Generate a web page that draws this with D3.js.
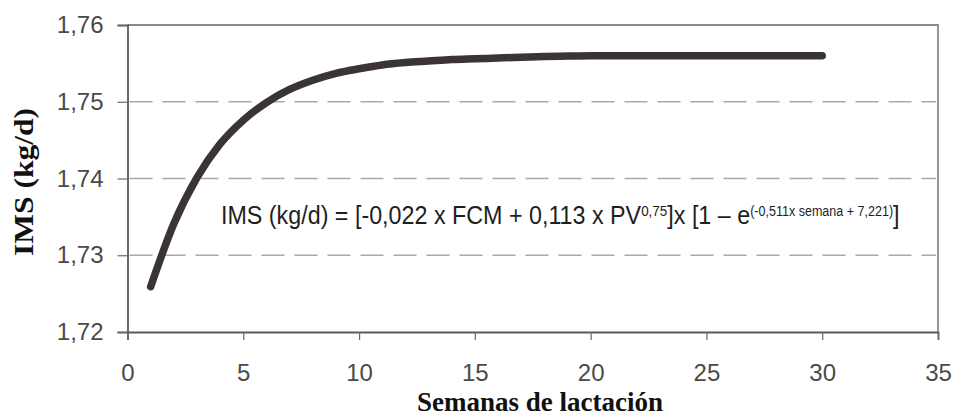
<!DOCTYPE html>
<html>
<head>
<meta charset="utf-8">
<script src="https://cdn.jsdelivr.net/npm/d3@7/dist/d3.min.js"></script>
<style>
  html, body { margin: 0; padding: 0; background: #ffffff; }
  svg { display: block; }
</style>
</head>
<body>
<svg id="chart" width="956" height="417"></svg>
<script>
// ---- data ----
const weeks = [1,2,3,4,5,6,7,8,9,10,11,12,13,14,15,16,17,18,19,20,21,22,23,24,25,26,27,28,29,30];
const ims   = [1.7259,1.7341,1.7401,1.7445,1.7476,1.7499,1.7516,1.7528,1.7537,1.7543,1.7548,1.7551,1.7553,1.7555,1.7556,1.7557,1.7558,1.7559,1.75595,1.7560,1.7560,1.7560,1.7560,1.7560,1.7560,1.7560,1.7560,1.7560,1.7560,1.7560];
const xTicks = [0,5,10,15,20,25,30,35];
const yTicks = [1.72,1.73,1.74,1.75,1.76];
const xTitle = "Semanas de lactación";
const yTitle = "IMS (kg/d)";

// ---- layout ----
const W = 956, H = 417;
const m = {left: 127.5, right: 18, top: 25, bottom: 85};
const svg = d3.select("#chart");

const x = d3.scaleLinear().domain([0, 35]).range([m.left, W - m.right]);
const y = d3.scaleLinear().domain([1.72, 1.76]).range([H - m.bottom, m.top]);

const fmt = d => d3.format(".2f")(d).replace(".", ",");

// gridlines (dashed) for interior ticks
svg.append("g")
  .selectAll("line")
  .data(yTicks.filter(t => t > 1.72 && t < 1.76))
  .join("line")
  .attr("x1", x(0) + 2).attr("x2", x(35) - 2)
  .attr("y1", d => y(d)).attr("y2", d => y(d))
  .attr("stroke", "#a8a8a8")
  .attr("stroke-width", 1.3)
  .attr("stroke-dasharray", "23,10");

// plot border: top and right
svg.append("path")
  .attr("d", `M${x(0)},${y(1.76)}H${x(35)}V${y(1.72)}`)
  .attr("fill", "none")
  .attr("stroke", "#8a8a8a")
  .attr("stroke-width", 1.8);

// y axis
const yAxis = d3.axisLeft(y).tickValues(yTicks).tickFormat(fmt).tickSize(10).tickPadding(14);
const gy = svg.append("g").attr("transform", `translate(${x(0)},0)`).call(yAxis);
gy.select(".domain").attr("stroke", "#5a5a5a").attr("stroke-width", 1.8);
gy.selectAll(".tick line").attr("stroke", "#6a6a6a").attr("stroke-width", 1.2);
gy.selectAll(".tick text")
  .attr("font-family", "'Liberation Sans', Arial, sans-serif")
  .attr("font-size", 24)
  .attr("fill", "#4a4a4a");

// x axis
const xAxis = d3.axisBottom(x).tickValues(xTicks).tickFormat(d3.format("d")).tickSize(8).tickPadding(24);
const gx = svg.append("g").attr("transform", `translate(0,${y(1.72)})`).call(xAxis);
gx.select(".domain").attr("stroke", "#5a5a5a").attr("stroke-width", 1.8);
gx.selectAll(".tick line").attr("stroke", "#6a6a6a").attr("stroke-width", 1.2);
gx.selectAll(".tick text")
  .attr("font-family", "'Liberation Sans', Arial, sans-serif")
  .attr("font-size", 24)
  .attr("fill", "#4a4a4a");

// curve
const line = d3.line()
  .x((d, i) => x(weeks[i]))
  .y(d => y(d))
  .curve(d3.curveMonotoneX);
svg.append("path")
  .datum(ims)
  .attr("d", line)
  .attr("fill", "none")
  .attr("stroke", "#3a3435")
  .attr("stroke-width", 7.5)
  .attr("stroke-linecap", "round")
  .attr("stroke-linejoin", "round");

// equation
const eq = svg.append("text")
  .attr("x", 0).attr("y", 0)
  .attr("font-family", "'Liberation Sans', Arial, sans-serif")
  .attr("font-size", 26)
  .attr("fill", "#1e1e1e");
eq.append("tspan").text("IMS (kg/d) = [-0,022 x FCM + 0,113 x PV");
eq.append("tspan").attr("font-size", 15).attr("dy", -8).text("0,75");
eq.append("tspan").attr("dy", 8).text("]x [1 \u2013 e");
eq.append("tspan").attr("font-size", 14).attr("dy", -8).text("(-0,511x semana + 7,221)");
eq.append("tspan").attr("dy", 8).text("]");
const eqW = eq.node().getComputedTextLength();
const targetW = 679;
eq.attr("transform", `translate(221,223.5) scale(${targetW / eqW},1)`);

// axis titles
svg.append("text")
  .attr("x", 540).attr("y", 411)
  .attr("text-anchor", "middle")
  .attr("font-family", "'Liberation Serif', 'Times New Roman', serif")
  .attr("font-weight", "bold")
  .attr("font-size", 27)
  .attr("fill", "#111")
  .text(xTitle);

svg.append("text")
  .attr("transform", "translate(33,182) rotate(-90)")
  .attr("text-anchor", "middle")
  .attr("font-family", "'Liberation Serif', 'Times New Roman', serif")
  .attr("font-weight", "bold")
  .attr("font-size", 27)
  .attr("textLength", 148)
  .attr("lengthAdjust", "spacingAndGlyphs")
  .attr("fill", "#111")
  .text(yTitle);
</script>
</body>
</html>
